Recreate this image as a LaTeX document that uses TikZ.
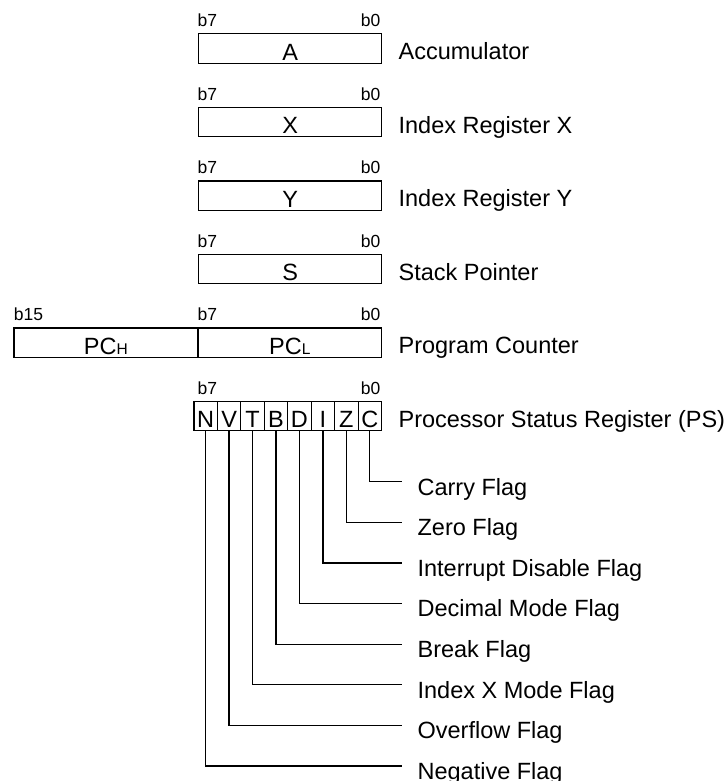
\documentclass[tikz,border=0pt]{standalone}
\usepackage{fontspec}
\setmainfont{Liberation Sans}
\begin{document}
\begin{tikzpicture}[x=1pt,y=-1pt,line width=1.2pt,
  bigtxt/.style={font=\fontsize{23.5}{28}\selectfont},
  smalltxt/.style={font=\fontsize{17.5}{20}\selectfont, inner sep=0pt},
  regbox/.style={draw, bigtxt, inner sep=0pt, anchor=north west,
    minimum height=29.4pt, text height=26.4pt, text depth=3pt},
  flagcell/.style={regbox, minimum width=23.46pt},
  reglabel/.style={bigtxt, inner sep=0pt, anchor=base west},
  bitlabelL/.style={smalltxt, anchor=base west},
  bitlabelR/.style={smalltxt, anchor=base east}]
\useasboundingbox (0,0) rectangle (725,781);

% 8-bit registers
\foreach \n/\t/\lab [count=\i from 0] in {A/A/Accumulator, X/X/Index Register X, Y/Y/Index Register Y, S/S/Stack Pointer} {
  \pgfmathsetmacro\ytop{33.3+73.5*\i}
  \node[regbox, minimum width=183pt] (r\n) at (198,\ytop) {\t};
  \node[bitlabelL] (hi\n) at (197,\ytop-6.7) {b7};
  \node[bitlabelR] (lo\n) at (381,\ytop-6.7) {b0};
  \node[reglabel] (lab\n) at (398,\ytop+26.4) {\lab};
}

% Program counter
\node[regbox, minimum width=184pt] (rPCH) at (13.3,327.3) {PC{\fontsize{15.5}{18}\selectfont H}};
\node[regbox, minimum width=183.7pt] (rPCL) at (197.3,327.3) {PC{\fontsize{15.5}{18}\selectfont L}};
\node[bitlabelL] (hiPCH) at (13.3,320.6) {b15};
\node[bitlabelL] (hiPC) at (197,320.6) {b7};
\node[bitlabelR] (loPC) at (381,320.6) {b0};
\node[reglabel] (labPC) at (398,353.7) {Program Counter};

% Processor status register
\foreach \f [count=\i from 0] in {N,V,T,B,D,I,Z,C} {
  \node[flagcell] (f\f) at (193.3+23.46*\i,400.8) {\f};
}
\node[bitlabelL] (hiPS) at (197,394.1) {b7};
\node[bitlabelR] (loPS) at (381,394.1) {b0};
\node[reglabel] (labPS) at (398,427.2) {Processor Status Register (PS)};

% Flag descriptions
\foreach \f/\lab [count=\i from 0] in {C/Carry Flag, Z/Zero Flag, I/Interrupt Disable Flag, D/Decimal Mode Flag, B/Break Flag, T/Index X Mode Flag, V/Overflow Flag, N/Negative Flag} {
  \pgfmathsetmacro\yl{481.7+40.6*\i}
  \coordinate (e\f) at (401.7,\yl);
  \draw (f\f.south) |- (e\f);
  \node[reglabel] (fl\f) at (417,\yl+13.3) {\lab};
}
\end{tikzpicture}
\end{document}
